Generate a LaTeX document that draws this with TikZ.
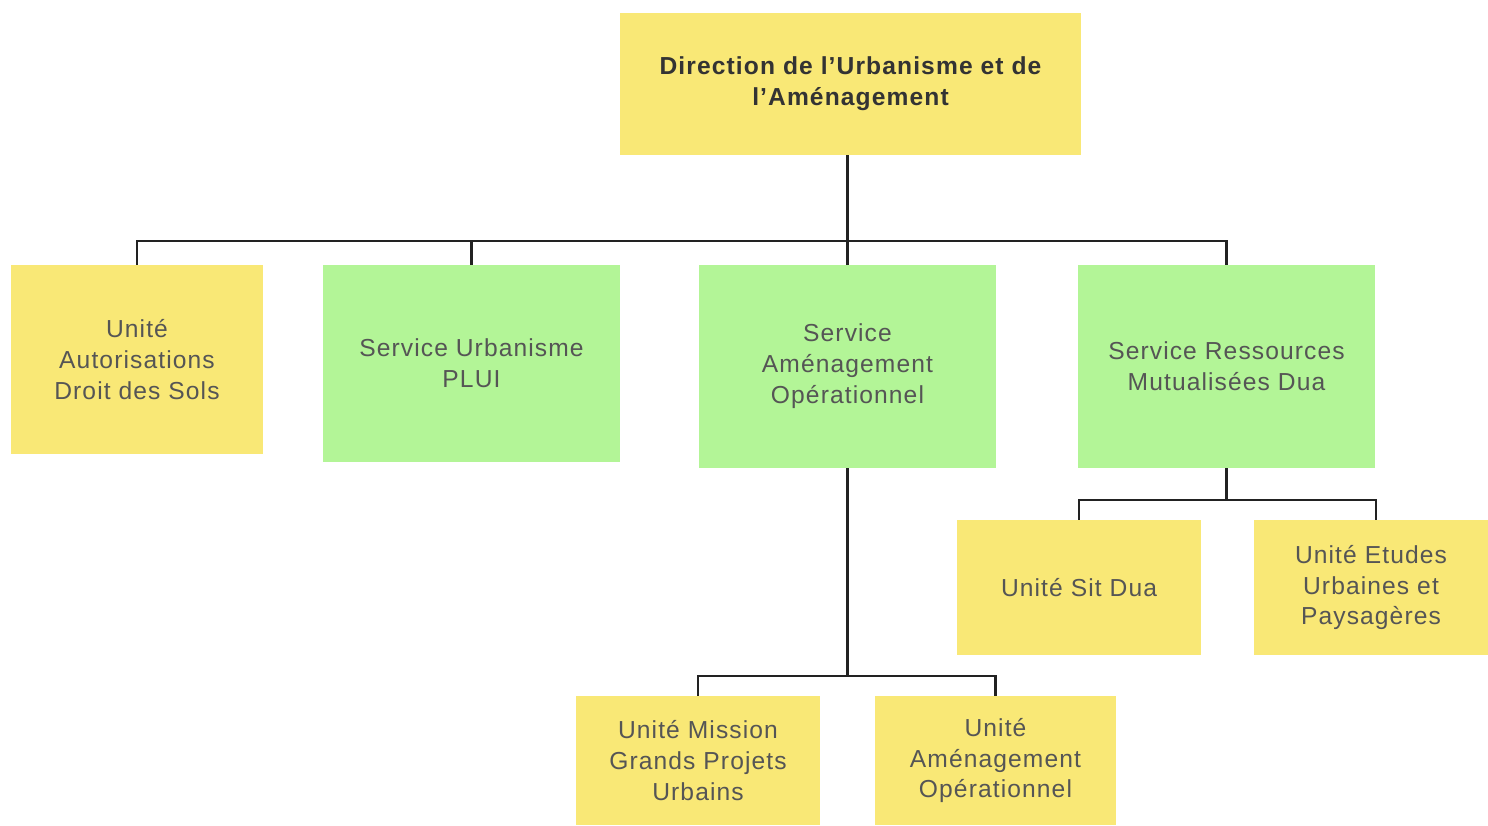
\documentclass[tikz,border=0pt]{standalone}
\usepackage{fontspec}
\setmainfont{Liberation Sans}[LetterSpace=4.5]
\usepackage{tikz}
\usetikzlibrary{positioning}

\definecolor{jaune}{RGB}{249,232,118}
\definecolor{vert}{RGB}{179,245,151}
\definecolor{texte}{RGB}{85,85,85}
\definecolor{trait}{RGB}{34,34,34}

\tikzset{
  unite/.style={fill=jaune, align=center, text=texte, inner sep=0pt,
    font=\fontsize{14}{17.6}\selectfont},
  service/.style={unite, fill=vert},
  lien/.style={draw=trait, line width=1.4pt}
}

\begin{document}
\begin{tikzpicture}
              \useasboundingbox (0,0) rectangle (29.76,-16.5);

              \node[unite, minimum width=9.22cm, minimum height=2.84cm, text=black!80,
                    font=\fontsize{14}{17.6}\selectfont\bfseries] (dir) at (17.01,-1.68)
                    {Direction de l’Urbanisme et de\\l’Aménagement};

              \node[unite, minimum width=5.04cm, minimum height=3.78cm] (ads) at (2.74,-7.19)
                    {Unité\\Autorisations\\Droit des Sols};
              \node[service, minimum width=5.94cm, minimum height=3.94cm] (plui) at (9.43,-7.27)
                    {Service Urbanisme\\PLUI};
              \node[service, minimum width=5.94cm, minimum height=4.06cm] (amen) at (16.95,-7.33)
                    {Service\\Aménagement\\Opérationnel};
              \node[service, minimum width=5.94cm, minimum height=4.06cm] (ress) at (24.53,-7.33)
                    {Service Ressources\\Mutualisées Dua};

              \node[unite, minimum width=4.88cm, minimum height=2.70cm] (sit) at (21.58,-11.75)
                    {Unité Sit Dua};
              \node[unite, minimum width=4.68cm, minimum height=2.70cm] (etud) at (27.42,-11.75)
                    {Unité Etudes\\Urbaines et\\Paysagères};

              \node[unite, minimum width=4.88cm, minimum height=2.58cm] (gpu) at (13.96,-15.21)
                    {Unité Mission\\Grands Projets\\Urbains};
              \node[unite, minimum width=4.82cm, minimum height=2.58cm] (uao) at (19.91,-15.21)
                    {Unité\\Aménagement\\Opérationnel};

              % barres de rattachement
              \coordinate (bus1) at (16.95,-4.82);
              \coordinate (bus2) at (16.95,-13.52);
              \coordinate (bus3) at (24.53,-10.0);

              \draw[lien] (amen.north |- dir.south) -- (amen.north);
              \draw[lien] (ads.north) |- (bus1) -| (ress.north);
              \draw[lien] (plui.north) -- (plui.north |- bus1);

              \draw[lien] (amen.south) -- (bus2);
              \draw[lien] (gpu.north) |- (bus2) -| (uao.north);

              \draw[lien] (ress.south) -- (bus3);
              \draw[lien] (sit.north) |- (bus3) -| ([xshift=0.1cm]etud.north);
            \end{tikzpicture}
\end{document}
